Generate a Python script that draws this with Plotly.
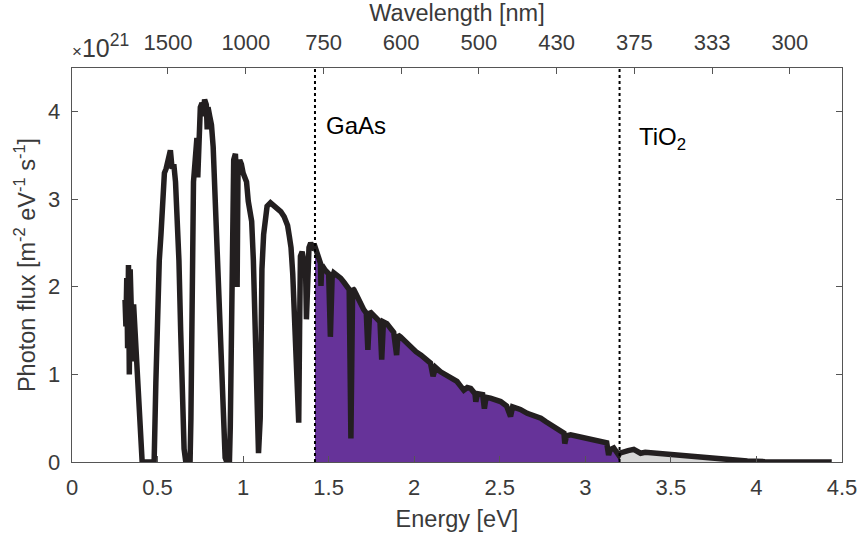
import plotly.graph_objects as go

# ---------------- data ----------------
energy_ev = [
    0.31, 0.315, 0.32, 0.325, 0.33, 0.335, 0.34, 0.345, 0.35, 0.355, 0.36, 0.37, 0.38, 0.39, 0.40, 0.41, 0.47,
    0.48, 0.49, 0.50, 0.51, 0.52, 0.53, 0.54, 0.55, 0.56, 0.57, 0.575, 0.585, 0.595, 0.605, 0.615, 0.625, 0.635, 0.645, 0.655, 0.665, 0.69,
    0.695, 0.70, 0.705, 0.71, 0.72, 0.73, 0.735, 0.74, 0.75, 0.76, 0.765, 0.775, 0.785, 0.79, 0.795, 0.805, 0.815, 0.825, 0.835, 0.845, 0.855, 0.865, 0.875, 0.885, 0.895, 0.905, 0.92,
    0.925, 0.93, 0.935, 0.94, 0.945, 0.955, 0.96, 0.965, 0.97, 0.98, 0.99, 1.00, 1.01, 1.02, 1.03, 1.04, 1.05, 1.06, 1.07, 1.08, 1.09, 1.10, 1.105, 1.11, 1.12, 1.13, 1.14, 1.16, 1.18, 1.20, 1.22,
    1.24, 1.25, 1.26, 1.27, 1.28, 1.29, 1.30, 1.31, 1.32, 1.325, 1.33, 1.335, 1.345, 1.355, 1.365, 1.37, 1.375, 1.385, 1.395, 1.41,
    1.42, 1.435, 1.452, 1.455, 1.46, 1.48, 1.50, 1.51, 1.52, 1.53, 1.55, 1.57, 1.59, 1.61, 1.62, 1.63, 1.64, 1.647, 1.66, 1.676, 1.69, 1.705, 1.72, 1.729, 1.74, 1.76, 1.78, 1.80, 1.81, 1.82, 1.84, 1.86, 1.88, 1.897, 1.905, 1.92, 1.95, 1.98,
    2.01, 2.04, 2.07, 2.095, 2.11, 2.125, 2.154, 2.18, 2.21, 2.25, 2.27, 2.29, 2.31, 2.33, 2.355, 2.36, 2.37, 2.40, 2.41, 2.42, 2.445, 2.475, 2.505, 2.54, 2.563, 2.575, 2.62, 2.66, 2.70, 2.74, 2.77, 2.80, 2.83, 2.855, 2.875, 2.88, 2.89, 2.914, 2.94, 2.97,
    3.01, 3.05, 3.10, 3.125, 3.136, 3.145, 3.166, 3.185, 3.195, 3.20, 3.224, 3.25, 3.283, 3.30, 3.323, 3.35, 3.38, 3.42, 3.46, 3.50, 3.58, 3.655, 3.73, 3.81, 3.88, 3.947, 4.05, 4.20, 4.35, 4.44,
]
photon_flux_1e21 = [
    1.85, 1.55, 2.10, 1.30, 2.25, 1.00, 2.20, 1.70, 1.95, 1.15, 1.80, 1.40, 0.90, 0.50, 0.15, 0.00, 0.00,
    0.00, 0.90, 1.80, 2.30, 2.60, 3.00, 3.30, 3.35, 3.45, 3.50, 3.56, 3.35, 3.40, 3.20, 2.85, 2.30, 1.50, 0.70, 0.15, 0.00, 0.00,
    0.50, 1.80, 2.60, 3.20, 3.45, 3.70, 3.25, 3.75, 4.05, 4.10, 3.95, 4.14, 4.08, 3.80, 4.05, 3.95, 3.85, 3.60, 3.10, 2.50, 1.90, 1.30, 0.80, 0.35, 0.05, 0.00, 0.00,
    0.40, 1.50, 2.60, 3.20, 3.45, 3.52, 3.30, 2.00, 3.30, 3.45, 3.40, 3.30, 3.25, 3.20, 2.98, 2.88, 2.75, 2.30, 1.30, 0.40, 0.10, 0.50, 1.50, 2.20, 2.60, 2.82, 2.92, 2.96, 2.93, 2.90, 2.86,
    2.80, 2.75, 2.70, 2.58, 2.45, 2.15, 1.70, 1.10, 0.50, 0.45, 1.50, 2.35, 2.40, 2.25, 2.20, 1.63, 2.05, 2.45, 2.50, 2.45,
    2.46, 2.38, 2.27, 2.01, 2.25, 2.19, 2.15, 1.43, 2.10, 2.16, 2.13, 2.10, 2.05, 2.00, 1.97, 0.27, 1.98, 1.97, 1.92, 1.85, 1.80, 1.74, 1.70, 1.28, 1.72, 1.68, 1.62, 1.60, 1.17, 1.60, 1.58, 1.53, 1.48, 1.22, 1.45, 1.43, 1.37, 1.30,
    1.26, 1.22, 1.17, 1.13, 0.98, 1.08, 1.03, 1.00, 0.97, 0.92, 0.87, 0.82, 0.85, 0.84, 0.78, 0.69, 0.78, 0.77, 0.61, 0.74, 0.73, 0.71, 0.69, 0.64, 0.52, 0.63, 0.60, 0.556, 0.53, 0.50, 0.46, 0.42, 0.38, 0.35, 0.33, 0.21, 0.30, 0.31, 0.30, 0.29,
    0.27, 0.25, 0.23, 0.22, 0.08, 0.14, 0.16, 0.12, 0.08, 0.10, 0.12, 0.13, 0.145, 0.12, 0.10, 0.11, 0.105, 0.095, 0.085, 0.08, 0.065, 0.053, 0.04, 0.03, 0.02, 0.011, 0.004, 0.0, 0.0, 0.0,
]

band_gap_ev = [1.42, 3.2]            # GaAs, TiO2
band_gap_labels = ["GaAs", "TiO<sub>2</sub>"]

x_ticks = [0, 0.5, 1, 1.5, 2, 2.5, 3, 3.5, 4, 4.5]
x_tick_text = ["0", "0.5", "1", "1.5", "2", "2.5", "3", "3.5", "4", "4.5"]
y_ticks = [0, 1, 2, 3, 4]
y_tick_text = ["0", "1", "2", "3", "4"]
wl_tick_pos_ev = [0.561, 1.016, 1.470, 1.924, 2.378, 2.832, 3.286, 3.741, 4.195]
wl_tick_text = ["1500", "1000", "750", "600", "500", "430", "375", "333", "300"]

# ---------------- styling ----------------
PURPLE = "#663399"
GREY_FILL = "#d6d6d6"
LINE = "#231f20"
AX = "#3a3a3a"
FONT = "Liberation Sans, Arial, Helvetica, sans-serif"
FS = 22
FT = 23.5

gaas, tio2 = band_gap_ev
purple_x = [e for e in energy_ev if gaas <= e <= tio2]
purple_y = [f for e, f in zip(energy_ev, photon_flux_1e21) if gaas <= e <= tio2]
grey_x = [e for e in energy_ev if e >= tio2]
grey_y = [f for e, f in zip(energy_ev, photon_flux_1e21) if e >= tio2]

fig = go.Figure()
fig.add_trace(go.Scatter(x=purple_x, y=purple_y, mode="lines", fill="tozeroy",
                         fillcolor=PURPLE, line=dict(width=0), hoverinfo="skip", showlegend=False))
fig.add_trace(go.Scatter(x=grey_x, y=grey_y, mode="lines", fill="tozeroy",
                         fillcolor=GREY_FILL, line=dict(width=0), hoverinfo="skip", showlegend=False))
fig.add_trace(go.Scatter(x=energy_ev, y=photon_flux_1e21, mode="lines",
                         line=dict(color=LINE, width=5.5), showlegend=False))
# invisible trace so the top (wavelength) axis is drawn
fig.add_trace(go.Scatter(x=[0, 4.5], y=[0, 0], xaxis="x2", mode="lines",
                         line=dict(width=0), hoverinfo="skip", showlegend=False))

for e in band_gap_ev:
    fig.add_shape(type="line", xref="x", yref="paper", x0=e, x1=e, y0=0, y1=1,
                  line=dict(color="black", width=2, dash="dot"))

fig.add_annotation(x=gaas + 0.05, y=3.84, xref="x", yref="y", text=band_gap_labels[0],
                   showarrow=False, xanchor="left", yanchor="middle",
                   font=dict(family=FONT, size=24, color="black"))
fig.add_annotation(x=tio2 + 0.1, y=3.70, xref="x", yref="y", text=band_gap_labels[1],
                   showarrow=False, xanchor="left", yanchor="middle",
                   font=dict(family=FONT, size=24, color="black"))
fig.add_annotation(x=0, y=1, xref="paper", yref="paper",
                   text="<span style='font-size:17px'>×</span>10<sup>21</sup>",
                   showarrow=False, xanchor="left", yanchor="bottom", yshift=4, xshift=-2,
                   font=dict(family=FONT, size=25, color=AX))

# y tick labels placed close to the axis line (as in the reference)
for v, t in zip(y_ticks, y_tick_text):
    fig.add_annotation(x=0, y=v, xref="paper", yref="y", text=t, showarrow=False,
                       xanchor="right", yanchor="middle", xshift=-10,
                       font=dict(family=FONT, size=FS, color=AX))

axis_common = dict(showgrid=False, zeroline=False, showline=True, linecolor="#555555", linewidth=1,
                   ticks="inside", ticklen=6, tickcolor="#555555", automargin=False,
                   tickfont=dict(family=FONT, size=FS, color=AX))

fig.update_layout(
    width=862, height=535,
    margin=dict(l=72, r=20, t=68, b=73),
    paper_bgcolor="white", plot_bgcolor="white",
    font=dict(family=FONT, size=FS, color=AX),
    xaxis=dict(range=[0, 4.5], tickvals=x_ticks, ticktext=x_tick_text, mirror=False,
               ticklabelstandoff=6,
               title=dict(text="Energy [eV]", font=dict(family=FONT, size=FT, color=AX), standoff=11),
               **axis_common),
    xaxis2=dict(range=[0, 4.5], overlaying="x", side="top", anchor="y",
                tickvals=wl_tick_pos_ev, ticktext=wl_tick_text, ticklabelstandoff=8,
                title=dict(text="Wavelength [nm]", font=dict(family=FONT, size=FT, color=AX), standoff=5),
                **axis_common),
    yaxis=dict(range=[0, 4.5], tickvals=y_ticks, mirror="ticks", showticklabels=False,
               title=dict(text="Photon flux [m<sup>-2</sup> eV<sup>-1</sup> s<sup>-1</sup>]",
                          font=dict(family=FONT, size=FT, color=AX), standoff=28),
               **axis_common),
)

fig.write_html("out.html", config={"displayModeBar": False},
               post_script="document.body.style.margin='0';document.body.style.overflow='hidden';")
